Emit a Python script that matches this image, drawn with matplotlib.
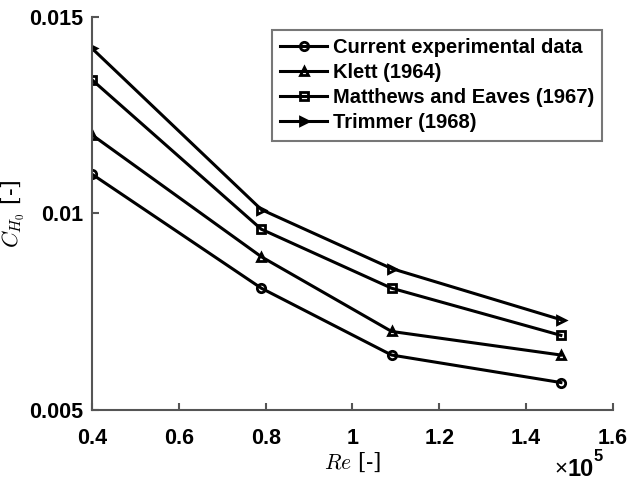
import numpy as np
import matplotlib
matplotlib.use('Agg')
import matplotlib.pyplot as plt

plt.rcParams['mathtext.fontset'] = 'cm'
plt.rcParams['font.family'] = 'Liberation Sans'

# data (Re in units of 1e5)
re = [0.4, 0.79, 1.09, 1.48]
current = [0.0110, 0.0081, 0.0064, 0.0057]
klett = [0.0120, 0.0089, 0.0070, 0.0064]
matthews = [0.0134, 0.0096, 0.0081, 0.0069]
trimmer = [0.0142, 0.0101, 0.0086, 0.0073]

labels = ['Current experimental data', 'Klett (1964)',
          'Matthews and Eaves (1967)', 'Trimmer (1968)']
markers = ['o', '^', 's', '>']

fig = plt.figure(figsize=(6.3, 4.83), dpi=100)
ax = fig.add_axes([0.146, 0.151, 0.827, 0.814])

for y, lab, m in zip([current, klett, matthews, trimmer], labels, markers):
    ax.plot(re, y, '-', color='black', lw=2.2, marker=m, ms=6,
            mfc='none', mec='black', mew=2, label=lab)

ax.set_xlim(0.4, 1.6)
ax.set_ylim(0.005, 0.015)
ax.set_xticks([0.4, 0.6, 0.8, 1.0, 1.2, 1.4, 1.6])
ax.set_xticklabels(['0.4', '0.6', '0.8', '1', '1.2', '1.4', '1.6'])
ax.set_yticks([0.005, 0.01, 0.015])
ax.set_yticklabels(['0.005', '0.01', '0.015'])

axcol = '#555555'
for s in ['top', 'right']:
    ax.spines[s].set_visible(False)
for s in ['left', 'bottom']:
    ax.spines[s].set_color(axcol)
    ax.spines[s].set_linewidth(1.5)
ax.tick_params(direction='in', length=5, width=1.5, color=axcol,
               labelsize=15.5)
ax.tick_params(axis='x', pad=13)
ax.tick_params(axis='y', pad=6)
for t in ax.get_xticklabels() + ax.get_yticklabels():
    t.set_fontweight('bold')

ax.set_xlabel(r'$Re$ [-]', fontsize=15.5, family='DejaVu Serif', labelpad=1)
ax.set_ylabel(r'$C_{H_0}$ [-]', fontsize=16, family='DejaVu Serif')
ax.yaxis.set_label_coords(-0.125, 0.5)

# x10^5 multiplier under the right end of the x axis
t1 = ax.text(0.887, -0.15, '×', transform=ax.transAxes,
             ha='left', va='center', fontsize=16)
t2 = ax.annotate('10', xy=(1, 0.5), xycoords=t1, ha='left', va='center',
                 fontsize=17, fontweight='bold')
ax.annotate('5', xy=(1, 0.7), xycoords=t2, ha='left', va='bottom',
            fontsize=12, fontweight='bold')

leg = ax.legend(loc='upper right', bbox_to_anchor=(0.979, 0.966),
                prop={'weight': 'bold', 'size': 14.5}, frameon=True,
                fancybox=False, handlelength=2.3, borderpad=0.4,
                labelspacing=0.3, handletextpad=0.3, borderaxespad=0)
leg.get_frame().set_edgecolor(axcol)
leg.get_frame().set_linewidth(1.5)

fig.savefig('out.png', dpi=100)
